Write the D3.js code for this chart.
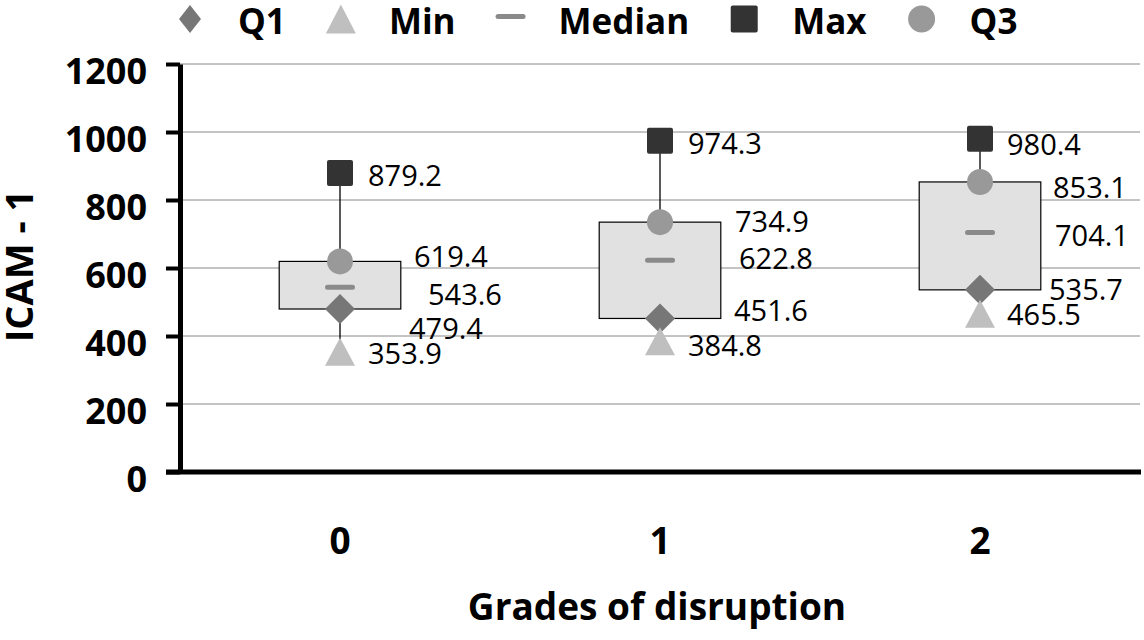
<!DOCTYPE html>
<html>
<head>
<meta charset="utf-8">
<script src="https://cdn.jsdelivr.net/npm/d3@7"></script>
<style>
  body { margin: 0; background: #fff; }
  text { font-family: "Open Sans", "Noto Sans", sans-serif; fill: #000; }
  .bold { font-weight: 700; }
  .val { font-size: 29px; }
</style>
</head>
<body>
<div id="chart"></div>
<script>
// values
const categories = ["0", "1", "2"];
const seriesNames = ["Q1", "Min", "Median", "Max", "Q3"];
const q1Vals = [479.4, 451.6, 535.7];
const minVals = [353.9, 384.8, 465.5];
const medianVals = [543.6, 622.8, 704.1];
const maxVals = [879.2, 974.3, 980.4];
const q3Vals = [619.4, 734.9, 853.1];
const yTicks = [0, 200, 400, 600, 800, 1000, 1200];

const valuesBySeries = { Q1: q1Vals, Min: minVals, Median: medianVals, Max: maxVals, Q3: q3Vals };

// label offsets (dx from category centre, dy from value) so labels sit like the original
const labelShift = {
  Q1:     [[69, 30], [74, 3], [69, 10]],
  Min:    [[28, 12], [28, 15], [27, 11]],
  Median: [[88, 18], [79, 9], [75, 13]],
  Max:    [[28, 13], [28, 13], [27, 16]],
  Q3:     [[74, 6], [75, 10], [73, 16]]
};

const W = 1144, H = 640;
const plotL = 180, plotR = 1140, plotT = 64, plotB = 472;

const svg = d3.select("#chart").append("svg")
  .attr("width", W).attr("height", H);

const x = d3.scaleBand().domain(categories).range([plotL, plotR]);
const y = d3.scaleLinear().domain([0, 1200]).range([plotB, plotT]);
const cx = c => x(c) + x.bandwidth() / 2;
const boxW = x.bandwidth() * 0.38;

// gridlines
svg.append("g").selectAll("line")
  .data(yTicks.filter(t => t > 0))
  .join("line")
  .attr("x1", plotL).attr("x2", plotR)
  .attr("y1", d => y(d)).attr("y2", d => y(d))
  .attr("stroke", "#888").attr("stroke-width", 1);

// whiskers
svg.append("g").selectAll("line")
  .data(categories)
  .join("line")
  .attr("x1", cx).attr("x2", cx)
  .attr("y1", (c, i) => y(maxVals[i]))
  .attr("y2", (c, i) => y(minVals[i]))
  .attr("stroke", "#000").attr("stroke-width", 1.3);

// boxes Q1..Q3
svg.append("g").selectAll("rect")
  .data(categories)
  .join("rect")
  .attr("x", c => cx(c) - boxW / 2)
  .attr("width", boxW)
  .attr("y", (c, i) => y(q3Vals[i]))
  .attr("height", (c, i) => y(q1Vals[i]) - y(q3Vals[i]))
  .attr("fill", "#e1e1e1")
  .attr("stroke", "#000").attr("stroke-width", 1.2);

// marker shapes
function marker(g, name, px, py, legend) {
  if (name === "Q1") {
    const hw = legend ? 11 : 15, hh = legend ? 14 : 15;
    g.append("path")
      .attr("d", `M${px},${py - hh}L${px + hw},${py}L${px},${py + hh}L${px - hw},${py}Z`)
      .attr("fill", "#777");
  } else if (name === "Min") {
    const hw = 15, hh = legend ? 14.5 : 14;
    g.append("path")
      .attr("d", `M${px},${py - hh}L${px + hw},${py + hh}L${px - hw},${py + hh}Z`)
      .attr("fill", "#bfbfbf");
  } else if (name === "Median") {
    g.append("rect")
      .attr("x", px - 15).attr("y", py - 2.5)
      .attr("width", 30).attr("height", 5).attr("rx", 2.5)
      .attr("fill", "#8a8a8a");
  } else if (name === "Max") {
    const s = legend ? 27 : 26;
    g.append("rect")
      .attr("x", px - s / 2).attr("y", py - s / 2)
      .attr("width", s).attr("height", s).attr("rx", 2)
      .attr("fill", "#333");
  } else {
    g.append("circle")
      .attr("cx", px).attr("cy", py).attr("r", legend ? 13.5 : 13)
      .attr("fill", "#999");
  }
}

const marks = svg.append("g");
seriesNames.forEach(name => {
  valuesBySeries[name].forEach((v, i) => {
    marker(marks, name, cx(categories[i]), y(v), false);
  });
});

// axes
const yAxis = svg.append("g")
  .attr("transform", `translate(${plotL},0)`)
  .call(d3.axisLeft(y).tickValues(yTicks).tickFormat(d3.format("d"))
    .tickSize(14).tickSizeOuter(0).tickPadding(19));
yAxis.select(".domain").attr("stroke", "#000").attr("stroke-width", 5);
yAxis.selectAll(".tick line").attr("stroke", "#000").attr("stroke-width", 4);
yAxis.selectAll(".tick text")
  .attr("class", "bold")
  .attr("font-size", 36)
  .attr("dy", "0.55em");
yAxis.attr("font-family", null).attr("font-size", null);

svg.append("line")
  .attr("x1", 166).attr("x2", plotR + 1)
  .attr("y1", plotB).attr("y2", plotB)
  .attr("stroke", "#000").attr("stroke-width", 5);

// category labels
svg.append("g").selectAll("text")
  .data(categories)
  .join("text")
  .attr("class", "bold")
  .attr("x", cx).attr("y", 554)
  .attr("text-anchor", "middle")
  .attr("font-size", 37)
  .text(d => d);

// data labels
const labels = svg.append("g");
seriesNames.forEach(name => {
  valuesBySeries[name].forEach((v, i) => {
    const [dx, dy] = labelShift[name][i];
    labels.append("text")
      .attr("class", "val")
      .attr("x", cx(categories[i]) + dx)
      .attr("y", y(v) + dy)
      .text(v.toFixed(1));
  });
});

// axis titles
svg.append("text")
  .attr("class", "bold")
  .attr("transform", "translate(33,266) rotate(-90)")
  .attr("text-anchor", "middle")
  .attr("font-size", 38)
  .text("ICAM - 1");

svg.append("text")
  .attr("class", "bold")
  .attr("x", 657).attr("y", 620)
  .attr("text-anchor", "middle")
  .attr("font-size", 37)
  .text("Grades of disruption");

// legend
const legend = svg.append("g");
let lx = 190;
seriesNames.forEach(name => {
  marker(legend, name, lx, name === "Median" ? 16.5 : 19, true);
  const t = legend.append("text")
    .attr("class", "bold")
    .attr("x", lx + 48).attr("y", 34)
    .attr("font-size", 35)
    .text(name);
  lx = lx + 48 + t.node().getComputedTextLength() + 55;
});
</script>
</body>
</html>
